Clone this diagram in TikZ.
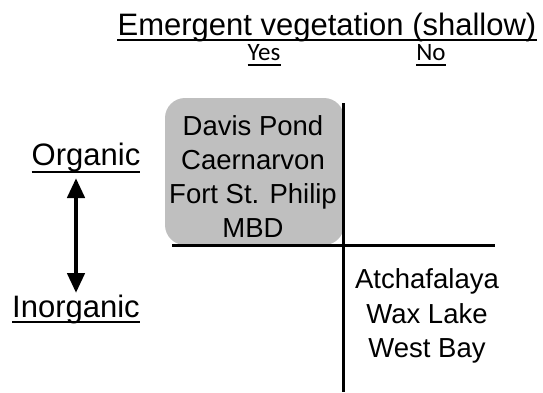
\documentclass[tikz,border=0pt]{standalone}
\usepackage{fontspec}
\setmainfont{Liberation Sans}
\newfontfamily\yesnofont{Carlito}
\usetikzlibrary{arrows.meta}
\begin{document}
\begin{tikzpicture}[x=1pt,y=-1pt,
  lbl/.style={inner sep=0pt,anchor=base,font=\fontsize{31}{37}\selectfont},
  yn/.style={inner sep=0pt,anchor=base,font=\yesnofont\fontsize{25}{30}\selectfont},
  grp/.style={inner sep=0pt,align=center,font=\fontsize{27.5}{34}\selectfont},
  ul/.style={line width=1.6pt},
  axis/.style={line width=3pt}]
\useasboundingbox (0,0) rectangle (543,392);
% title and column labels
\node[lbl] (title) at (327,35) {Emergent vegetation (shallow)};
\draw[ul] ([yshift=-5pt]title.base west) -- ([yshift=-5pt]title.base east);
\node[yn] (yes) at (264,60) {Yes};
\draw[ul] ([yshift=-5pt]yes.base west) -- ([yshift=-5pt]yes.base east);
\node[yn] (no) at (431,60) {No};
\draw[ul] ([yshift=-5pt]no.base west) -- ([yshift=-5pt]no.base east);
% row labels
\node[lbl] (org) at (86,165) {Organic};
\draw[ul] ([yshift=-7pt]org.base west) -- ([yshift=-7pt]org.base east);
\node[lbl] (inorg) at (76,317) {Inorganic};
\draw[ul] ([yshift=-5pt]inorg.base west) -- ([yshift=-5pt]inorg.base east);
\coordinate (atop) at (76,178);
\coordinate (abot) at (76,293);
\draw[line width=4.5pt,{Triangle[width=17pt,length=20pt]}-{Triangle[width=17pt,length=20pt]}] (atop) -- (abot);
% grey box
\draw[fill=black!25,draw=none,rounded corners=20pt] (165,98) rectangle (344,245);
\node[grp,anchor=base] (dp) at (253,135) {Davis Pond};
\node[grp,anchor=base] (cn) at (253,169) {Caernarvon};
\node[grp,anchor=base] (fs) at (253,203) {Fort St. Philip};
\node[grp,anchor=base] (mbd) at (253,237) {MBD};
% axes
\coordinate (vtop) at (343,103);
\coordinate (vbot) at (343,392);
\coordinate (hl) at (172,245);
\coordinate (hr) at (495,245);
\draw[axis] (vtop) -- (vbot);
\draw[axis] (hl) -- (hr);
% lower right group
\node[grp,anchor=base] (at) at (427,288) {Atchafalaya};
\node[grp,anchor=base] (wl) at (427,323) {Wax Lake};
\node[grp,anchor=base] (wb) at (427,357) {West Bay};
\end{tikzpicture}
\end{document}
